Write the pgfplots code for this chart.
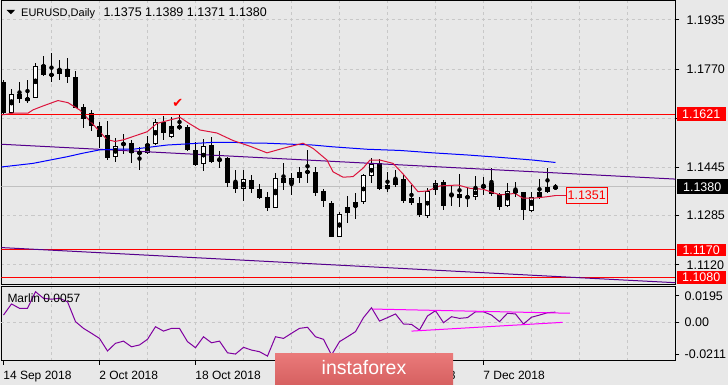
\documentclass[border=0pt]{standalone}
\usepackage{fontspec}
\setmainfont{Liberation Sans}
\newfontfamily\djv{DejaVu Sans}
\usepackage{pgfplots}
\pgfplotsset{compat=1.18}
\usepackage{pgfplotstable}

\definecolor{bg}{RGB}{232,232,232}
\definecolor{gridc}{RGB}{200,200,200}
\definecolor{bidc}{RGB}{192,192,192}
\definecolor{maR}{RGB}{220,20,60}
\definecolor{maB}{RGB}{0,0,255}
\definecolor{indig}{RGB}{85,0,140}
\definecolor{marl}{RGB}{128,0,160}
\definecolor{mag}{RGB}{255,0,255}
\definecolor{wmtop}{RGB}{234,122,122}
\definecolor{wmbot}{RGB}{214,96,96}

\pgfplotstableread{
i o h l c
0 1.1729 1.1735 1.1619 1.1626
1 1.1627 1.1704 1.1624 1.1690
2 1.1689 1.1730 1.1658 1.1671
3 1.1667 1.1737 1.1660 1.1676
4 1.1677 1.1792 1.1674 1.1782
5 1.1785 1.1815 1.1749 1.1752
6 1.1755 1.1824 1.1729 1.1750
7 1.1755 1.1802 1.1737 1.1771
8 1.1771 1.1808 1.1725 1.1744
9 1.1744 1.1766 1.1641 1.1643
10 1.1645 1.1656 1.1575 1.1606
11 1.1625 1.1636 1.1567 1.1581
12 1.1582 1.1597 1.1508 1.1547
13 1.1552 1.1599 1.1469 1.1477
14 1.1480 1.1541 1.1464 1.1516
15 1.1518 1.1556 1.1488 1.1527
16 1.1527 1.1536 1.1460 1.1492
17 1.1494 1.1512 1.1436 1.1491
18 1.1492 1.1549 1.1489 1.1521
19 1.1521 1.1605 1.1519 1.1596
20 1.1597 1.1616 1.1536 1.1560
21 1.1545 1.1611 1.1542 1.1582
22 1.1582 1.1622 1.1569 1.1575
23 1.1580 1.1586 1.1498 1.1501
24 1.1503 1.1529 1.1449 1.1454
25 1.1455 1.1538 1.1434 1.1516
26 1.1519 1.1546 1.1458 1.1463
27 1.1471 1.1500 1.1442 1.1468
28 1.1476 1.1479 1.1380 1.1392
29 1.1396 1.1436 1.1358 1.1373
30 1.1374 1.1436 1.1334 1.1405
31 1.1403 1.1421 1.1360 1.1372
32 1.1372 1.1388 1.1340 1.1344
33 1.1345 1.1364 1.1301 1.1310
34 1.1311 1.1425 1.1308 1.1408
35 1.1408 1.1459 1.1370 1.1392
36 1.1388 1.1425 1.1354 1.1408
37 1.1408 1.1447 1.1392 1.1428
38 1.1428 1.1503 1.1394 1.1431
39 1.1429 1.1447 1.1350 1.1360
40 1.1366 1.1372 1.1314 1.1334
41 1.1325 1.1334 1.1213 1.1214
42 1.1214 1.1297 1.1212 1.1290
43 1.1292 1.1350 1.1261 1.1312
44 1.1312 1.1360 1.1272 1.1329
45 1.1329 1.1423 1.1322 1.1418
46 1.1416 1.1475 1.1394 1.1455
47 1.1458 1.1472 1.1369 1.1372
48 1.1372 1.1430 1.1364 1.1385
49 1.1385 1.1436 1.1378 1.1405
50 1.1405 1.1423 1.1326 1.1334
51 1.1342 1.1386 1.1320 1.1326
52 1.1325 1.1345 1.1278 1.1286
53 1.1284 1.1377 1.1275 1.1367
54 1.1368 1.1404 1.1354 1.1394
55 1.1395 1.1403 1.1303 1.1317
56 1.1356 1.1386 1.1317 1.1352
57 1.1356 1.1423 1.1314 1.1342
58 1.1347 1.1377 1.1314 1.1344
59 1.1345 1.1417 1.1336 1.1375
60 1.1384 1.1414 1.1353 1.1378
61 1.1392 1.1442 1.1350 1.1356
62 1.1356 1.1358 1.1303 1.1314
63 1.1317 1.1392 1.1314 1.1367
64 1.1369 1.1395 1.1347 1.1360
65 1.1362 1.1364 1.1270 1.1303
66 1.1301 1.1363 1.1297 1.1347
67 1.1347 1.1405 1.1339 1.1362
68 1.1362 1.1442 1.1361 1.1378
69 1.1375 1.1389 1.1371 1.1380
}\candles

\pgfplotstableread{
i v
0 0.0041
1 0.0102
2 0.0078
3 0.0078
4 0.0169
5 0.0133
6 0.0128
7 0.0133
8 0.0114
9 0.0005
10 -0.0032
11 -0.0059
12 -0.0087
13 -0.0156
14 -0.0114
15 -0.0102
16 -0.0133
17 -0.0123
18 -0.0092
19 -0.0023
20 -0.0047
21 -0.0032
22 -0.0032
23 -0.0105
24 -0.0138
25 -0.0078
26 -0.0111
27 -0.0102
28 -0.0166
29 -0.0173
30 -0.0136
31 -0.0151
32 -0.0160
33 -0.0184
34 -0.0078
35 -0.0087
36 -0.0059
37 -0.0032
38 -0.0026
39 -0.0078
40 -0.0092
41 -0.0178
42 -0.0105
43 -0.0078
44 -0.0050
45 0.0027
46 0.0081
47 0.0008
48 0.0027
49 0.0047
50 -0.0008
51 -0.0010
52 -0.0041
53 0.0036
54 0.0065
55 -0.0001
56 0.0032
57 0.0023
58 0.0027
59 0.0059
60 0.0059
61 0.0041
62 0.0005
63 0.0051
64 0.0047
65 -0.0008
66 0.0029
67 0.0041
68 0.0054
69 0.0057
}\marlin

\begin{document}
\begin{tikzpicture}[x=1pt,y=1pt]
\useasboundingbox (0,0) rectangle (728,385);
\fill[bg] (0,0) rectangle (728,385);

% ---------------- main price panel ----------------
\begin{axis}[
  at={(1.5pt,100pt)}, anchor=south west, scale only axis,
  width=674pt, height=284pt,
  xmin=-0.25, xmax=84, ymin=1.10534, ymax=1.19982,
  axis line style={line width=1pt},
  scaled y ticks=false, scaled x ticks=false,
  xtick={6,12,...,84}, xticklabels={}, xtick style={draw=none},
  xmajorgrids, ymajorgrids,
  grid style={gridc, line width=1pt, dash pattern=on 3pt off 3pt},
  ytick={1.1935,1.1770,1.1608,1.1445,1.1285,1.1120},
  yticklabels={1.1935,1.1770,{},1.1445,1.1285,1.1120},
  ytick pos=right, yticklabel pos=right,
  tick align=outside, major tick length=4pt,
  ytick style={black, line width=1pt},
  yticklabel style={anchor=west, inner sep=0pt, xshift=7pt,
    font=\fontsize{12.5}{12.5}\selectfont},
]
% bid line
\addplot[bidc, line width=1pt] coordinates {(-0.25,1.1380) (84,1.1380)};
% wicks
\addplot[only marks, mark=none, error bars/.cd, y dir=both, y explicit,
  error mark=none, error bar style={draw=black, line width=1pt}]
  table[x=i, y expr={(\thisrow{h}+\thisrow{l})/2},
        y error expr={(\thisrow{h}-\thisrow{l})/2}] {\candles};
% bodies (outline / black)
\addplot[only marks, mark=none, error bars/.cd, y dir=both, y explicit,
  error mark=none, error bar style={draw=black, line width=5pt}]
  table[x=i, y expr={(\thisrow{o}+\thisrow{c})/2},
        y error expr={max(abs(\thisrow{o}-\thisrow{c})/2,0.00017)}] {\candles};
% bodies (white inner for bullish)
\addplot[only marks, mark=none, error bars/.cd, y dir=both, y explicit,
  error mark=none, error bar style={draw=white, line width=3pt}]
  table[x=i, y expr={(\thisrow{o}+\thisrow{c})/2},
        y error expr={max((\thisrow{c}-\thisrow{o})/2-0.00033,0)}] {\candles};
% horizontal levels
\addplot[red, line width=1pt] coordinates {(-0.25,1.1621) (84,1.1621)};
\addplot[red, line width=1pt] coordinates {(-0.25,1.1170) (84,1.1170)};
\addplot[red, line width=1pt] coordinates {(-0.25,1.1080) (84,1.1080)};
% channel lines
\addplot[indig, line width=1pt] coordinates {(-0.25,1.15216) (84,1.14057)};
\addplot[indig, line width=1pt] coordinates {(-0.25,1.11779) (84,1.10610)};
% blue MA
\addplot[maB, line width=1pt] coordinates {
(-0.25,1.1446) (3.69,1.1458) (5.81,1.1469) (7.94,1.1480) (9.94,1.1492) (12.06,1.1503)
(14.19,1.1505) (16.19,1.1505) (18.31,1.1512) (20.44,1.1519) (22.44,1.1522) (26.19,1.1528)
(28.69,1.1528) (30.44,1.1526) (32.94,1.1525) (35.81,1.1522) (38.69,1.1519) (41.19,1.1513)
(45.44,1.1505) (49.56,1.1501) (53.69,1.1493) (57.94,1.1486) (62.06,1.1478) (66.19,1.1469) (69,1.1461)};
% red MA
\addplot[maR, line width=1pt] coordinates {
(-0.25,1.1619) (1.19,1.1625) (3.06,1.1625) (3.69,1.1636) (4.94,1.1649) (6.81,1.1667)
(8.06,1.1660) (9.56,1.1635) (11.19,1.1588) (12.94,1.1537) (13.94,1.1531) (14.94,1.1536)
(17.94,1.1563) (19.19,1.1591) (21.19,1.1605) (22.06,1.1611) (23.31,1.1589) (24.56,1.1569)
(26.69,1.1559) (28.69,1.1534) (30.81,1.1515) (32.94,1.1493) (34.94,1.1508) (37.44,1.1525)
(38.69,1.1508) (40.44,1.1469) (41.19,1.1430) (42.44,1.1412) (43.69,1.1414) (44.94,1.1442)
(45.81,1.1469) (47.06,1.1469) (48.69,1.1458) (49.94,1.1423) (51.81,1.1364) (52.94,1.1366)
(54.56,1.1383) (56.81,1.1386) (58.31,1.1375) (59.94,1.1372) (62.06,1.1353) (63.94,1.1358)
(64.94,1.1342) (66.19,1.1342) (67.94,1.1347) (69,1.1351)};
\addplot[maR, line width=1pt] coordinates {(69,1.1351) (70.28,1.1351)};
\node[draw=red, line width=1pt, fill=bg, text=red, anchor=west, minimum width=41pt,
  minimum height=16pt, inner sep=0pt, font=\fontsize{12.5}{12.5}\selectfont]
  at (axis cs:70.28,1.1351) {1.1351};
\node[text=red, font=\djv\fontsize{13}{13}\selectfont] at (axis cs:21.8,1.1659) {✔};
\coordinate (L1621) at (axis cs:84,1.1621);
\coordinate (L1380) at (axis cs:84,1.1380);
\coordinate (L1170) at (axis cs:84,1.1170);
\coordinate (L1080) at (axis cs:84,1.1080);
\end{axis}

% ---------------- Marlin panel ----------------
\begin{axis}[
  at={(1.5pt,24pt)}, anchor=south west, scale only axis,
  width=674pt, height=74pt,
  xmin=-0.25, xmax=84, ymin=-0.0211, ymax=0.0195,
  axis line style={line width=1pt},
  scaled y ticks=false, scaled x ticks=false,
  xtick={0,12,...,60},
  xticklabels={14 Sep 2018,2 Oct 2018,18 Oct 2018,5 Nov 2018,21 Nov 2018,7 Dec 2018},
  xtick pos=bottom,
  minor xtick={6,12,...,84}, xminorgrids, minor tick length=0pt,
  minor grid style={gridc, line width=1pt, dash pattern=on 3pt off 3pt},
  major grid style={gridc, line width=1pt, dash pattern=on 3pt off 3pt},
  ytick={0.0147,0,-0.0173}, yticklabels={0.0195,0.00,-0.0211},
  ytick pos=right, yticklabel pos=right,
  extra y ticks={0}, extra y tick labels={}, extra y tick style={grid=major},
  tick align=outside, major tick length=4pt,
  tick style={black, line width=1pt},
  yticklabel style={anchor=west, inner sep=0pt, xshift=5pt,
    font=\fontsize{12.5}{12.5}\selectfont},
  xticklabel style={anchor=north west, inner sep=0pt, xshift=-0.3pt, yshift=-6pt,
    font=\fontsize{12}{12}\selectfont},
]
\addplot[marl, line width=1pt] table[x=i, y=v] {\marlin};
\addplot[mag, line width=1pt] coordinates {(46.2,0.0074) (70.8,0.0051)};
\addplot[mag, line width=1pt] coordinates {(51.0,-0.0047) (69.9,0.0001)};
\end{axis}

% right-side boxed price labels
\node[fill=red, text=white, anchor=west, minimum width=49pt, minimum height=14pt,
  inner sep=0pt, font=\fontsize{12.5}{12.5}\selectfont] at ([xshift=1pt]L1621) {1.1621};
\node[fill=black, text=white, anchor=west, minimum width=51pt, minimum height=15pt,
  inner sep=0pt, font=\fontsize{12.5}{12.5}\selectfont] at ([xshift=1pt]L1380) {1.1380};
\node[fill=red, text=white, anchor=west, minimum width=49pt, minimum height=12pt,
  inner sep=0pt, font=\fontsize{12.5}{12.5}\selectfont] at ([xshift=1pt]L1170) {1.1170};
\node[fill=red, text=white, anchor=west, minimum width=49pt, minimum height=13pt,
  inner sep=0pt, font=\fontsize{12.5}{12.5}\selectfont] at ([xshift=1pt]L1080) {1.1080};

% header
\fill[black] (6.7,375) -- (15,375) -- (10.85,370.8) -- cycle;
\node[anchor=base west, inner sep=0pt, font=\fontsize{11}{11}\selectfont] at (21,368.3) {EURUSD,Daily};
\node[anchor=base west, inner sep=0pt, font=\fontsize{12.5}{12.5}\selectfont] at (103.3,368.3) {1.1375 1.1389 1.1371 1.1380};
\node[anchor=base west, inner sep=0pt, font=\fontsize{12}{12}\selectfont] at (7.3,82.5) {Marlin 0.0057};

% watermark
\shade[top color=wmtop, bottom color=wmbot] (275,0) rectangle (453,31.7);
\node[text=white, font=\fontsize{19.5}{19.5}\selectfont] at (364,17) {instaforex};
\end{tikzpicture}
\end{document}
